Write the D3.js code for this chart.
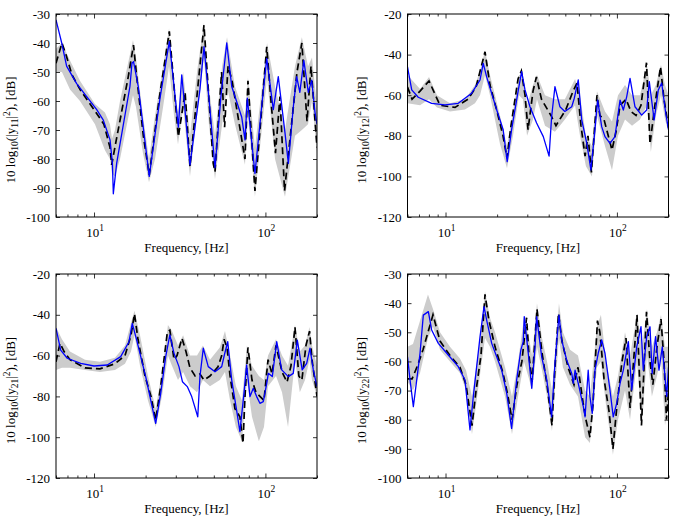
<!DOCTYPE html>
<html><head><meta charset="utf-8">
<script src="https://cdn.jsdelivr.net/npm/d3@7"></script>
<style>
body{margin:0;background:#fff}
svg{display:block}
text{font-family:"Liberation Serif","Times New Roman",serif;fill:#000}
</style>
</head><body>
<svg id="chart" width="675" height="517"></svg>
<script>
// ---------------- data ----------------
const xDomain = [6, 200];
const xMajorTicks = [10, 100];
const xMajorLabels = [["10","1"],["10","2"]];
const xMinorTicks = [6,7,8,9,20,30,40,50,60,70,80,90,200];
const xLabel = "Frequency, [Hz]";
const panelIds = ["11","12","21","22"];

const p1YDomain = [-100, -30];
const p1YTicks = [-100,-90,-80,-70,-60,-50,-40,-30];
const p2YDomain = [-120, -20];
const p2YTicks = [-120,-100,-80,-60,-40,-20];
const p3YDomain = [-120, -20];
const p3YTicks = [-120,-100,-80,-60,-40,-20];
const p4YDomain = [-100, -30];
const p4YTicks = [-100,-90,-80,-70,-60,-50,-40,-30];

// panel 1 : y11
const p1BlueF = [6.0,6.48,6.92,7.92,10.37,11.33,12.4,12.8,12.96,13.56,16.2,16.65,17.0,18.12,21.0,24.27,27.5,31.05,32.5,36.3,41.5,43.8,47.5,50.8,55.1,59.5,63.6,72.7,76.0,78.4,86.9,95.1,101.8,111.2,118.9,130.1,136.1,145.5,152.2,158.8,167.6,178,186.3,194.7,200];
const p1BlueDB = [-32,-40,-48,-54,-63,-66.6,-73.4,-81.4,-92,-81.4,-55,-47,-46.4,-55,-86,-59,-39.5,-69,-51,-82,-56,-41.3,-63,-83,-58,-40,-55,-65.5,-73.4,-59,-85,-62,-45.3,-63,-51.6,-71,-81.5,-62,-51.6,-57,-46,-57,-52.8,-64,-68];
const p1DashF = [6.0,6.5,6.86,7.44,8.28,10.0,11.42,12.39,12.68,13.43,14.57,15.8,17.0,17.74,19.4,21.0,23.9,27.5,31.05,34.0,36.3,43.8,49.6,50.8,55.5,57.8,60.5,63.9,76.0,79.1,86.9,101.8,107.8,114.5,121.6,129.3,152.9,163.2,174.9,184.5,200];
const p1DashDB = [-47,-40,-44,-51,-56,-63,-68,-76,-82,-74,-63,-52,-40.7,-51.6,-72,-85.5,-60,-36,-72.3,-57,-82.6,-33.8,-81.5,-84.4,-50,-69,-48,-53,-80,-53,-91,-41.3,-60,-78,-58.5,-91,-50,-40,-67,-48,-76];
const p1BandF = [6.0,6.5,7.24,8.28,10.13,11.58,12.39,12.73,13.25,14.18,15.8,16.88,17.57,19.3,20.93,22.7,25.3,27.4,29.3,30.9,33.1,36.3,39.9,43.8,46.8,50.8,55.9,59.7,66.4,76.0,79.1,86.9,102.2,113.8,130.1,148.8,163.2,177.3,187,200];
const p1BandUp = [-42,-40,-46,-53,-61,-64,-68,-73,-70,-60,-47,-39,-45,-65,-80,-65,-48,-35,-55,-64,-50,-72,-50,-33,-55,-72,-48,-38,-55,-65,-52,-76,-40,-55,-70,-48,-38,-48,-45,-62];
const p1BandLo = [-50,-50,-56,-60,-68,-77,-80,-85,-86,-80,-66,-58,-62,-78,-88,-80,-62,-48,-65,-75,-62,-86,-65,-45,-68,-87,-68,-55,-68,-82,-65,-93,-52,-80,-93,-72,-70,-68,-60,-78];

// panel 2 : y12
const p2BlueF = [6.0,6.35,6.93,8.30,9.93,11.87,14.21,15.9,16.6,17.38,19.9,21.7,22.9,24.3,26.6,27.8,29.1,31.1,34.0,37.2,40.2,41.6,43.5,46.5,49.7,54.5,56.4,59.5,62.3,66.7,70.5,73.8,77.2,81.5,85.2,91.1,97.4,104.3,109.0,114.1,119.3,127.5,139.5,149.2,154.5,164.9,174.4,182.5,192.7,200];
const p2BlueDB = [-46,-57.4,-61,-64,-64.8,-64,-59,-52.5,-44.3,-51,-67.3,-77,-92.7,-77,-57.4,-48.4,-57.4,-65.7,-73.7,-80.4,-90,-70.6,-55.8,-65.7,-68,-65.7,-61.5,-52.5,-72,-83.7,-96.8,-80.4,-62.4,-75.5,-80.4,-83.7,-80.4,-62.4,-67.3,-60.7,-51.7,-65.7,-69.8,-67.3,-53.3,-72.2,-57.4,-54,-68.9,-77];
const p2DashF = [6.0,6.38,7.10,8.01,9.29,11.36,13.52,15.07,17.0,18.17,19.98,21.65,22.84,24.1,26.5,27.7,29.1,30.3,32.4,33.9,36.3,41.25,44.1,50.4,55.5,58.5,61.7,65.2,67.8,71.0,76.5,79.6,84.1,93.6,98.8,104.3,113.0,120.8,129.3,138.2,148.8,156,166.5,179.6,188.3,200];
const p2DashDB = [-56,-62,-58,-53,-65,-66,-62,-56,-38.6,-55,-68,-80,-91,-75,-52,-48,-60,-77,-58,-51,-62,-70,-75,-67,-58,-54,-75,-90,-80,-98,-60,-70,-72,-87,-78,-65,-62,-68,-70,-65,-44,-84,-65,-46,-62,-76];
const p2BandF = [6.0,7.10,8.01,8.92,10.62,12.99,14.86,15.9,17.0,18.17,20.79,22.84,24.77,26.84,28.29,29.9,32.4,34.17,38.06,43.5,49.7,57.0,60.9,65.95,71.5,76.5,85.2,93.6,101.5,111.5,122.5,136.4,149.8,157.8,168.8,180.8,190.8,200];
const p2BandUp = [-50,-57,-51,-60,-64,-62,-55,-48,-38,-50,-70,-85,-68,-50,-50,-65,-55,-50,-60,-62,-62,-52,-60,-80,-85,-58,-68,-73,-60,-55,-60,-60,-45,-60,-55,-45,-55,-60];
const p2BandLo = [-64,-65,-62,-66,-68,-67,-64,-60,-50,-60,-84,-96,-80,-60,-62,-80,-72,-62,-75,-78,-72,-65,-80,-95,-100,-70,-85,-97,-80,-72,-75,-72,-65,-88,-70,-60,-72,-78];

// panel 3 : y21
const p3BlueF = [6.0,6.39,6.98,8.36,10.0,11.95,14.31,16.0,16.72,17.74,20.02,22.9,24.5,26.2,27.7,29.3,31.3,32.8,35.0,37.15,40.3,41.5,43.4,46.4,50.8,55.6,57.6,60.3,63.6,67.9,71.0,75.3,77.7,81.3,85.0,88.9,92.9,97.2,101.8,104,109.7,116.4,124.5,136.1,145.4,153.5,163.9,174.1,182,190.3,200];
const p3BlueDB = [-46.6,-57.3,-61.3,-63.8,-65.1,-64.6,-60.5,-53.2,-44.2,-52.4,-70.3,-93.2,-78.5,-60.5,-49.9,-58.9,-65.4,-72.8,-75.2,-80.1,-90,-70.3,-56.4,-65.4,-67.9,-65.4,-59.7,-53.2,-72,-86.7,-97.3,-76.9,-64.6,-80.1,-76,-80.1,-83.4,-82.6,-73.6,-68.7,-70.3,-53.2,-67,-70.3,-68.7,-52.4,-67,-63.8,-56.4,-67,-75.2];
const p3DashF = [6.0,6.33,6.69,7.24,8.86,10.83,13.25,15.16,16.43,17.22,18.05,19.83,21.5,22.9,24.5,26.8,27.7,29.3,30.5,32.6,34.4,36.3,38.9,41.5,43.8,47.5,52.9,55.6,57.4,59.7,62.2,66.4,71.0,74.0,76.0,79.1,83.5,88.1,92.9,98.1,103.6,109.3,115.3,125.0,133.7,141,148.8,156.7,163.2,172.5,181,187,200];
const p3DashDB = [-63,-54,-58,-62,-66,-66.5,-64,-60,-50,-39.5,-52,-70,-80,-91.6,-75,-48.3,-47.5,-62,-60,-51.5,-58,-66,-70,-69,-72,-70,-65.5,-60,-52,-56,-70,-86,-90,-103,-80,-56,-72,-78,-80,-82,-62,-69,-55,-68,-73,-65,-46,-70,-72,-55,-48,-62,-80];
const p3BandF = [6.0,6.5,7.24,8.86,10.83,13.25,15.16,16.43,17.22,18.55,20.65,22.9,24.9,27.0,28.5,30.9,33.1,36.3,39.9,43.2,47.5,54.2,58.1,62.2,67.3,73.0,78.0,83.5,91.6,98.1,103.6,115.3,125.0,135.5,148.8,158.8,170.2,180.8,187,200];
const p3BandUp = [-46,-52,-58,-62,-63,-61,-55,-44,-38,-50,-70,-86,-68,-45,-48,-55,-50,-60,-60,-55,-62,-56,-48,-60,-75,-82,-55,-65,-70,-72,-60,-52,-60,-65,-45,-58,-55,-46,-55,-65];
const p3BandLo = [-67,-66,-66,-67,-68,-67,-64,-58,-50,-65,-82,-95,-80,-60,-65,-72,-68,-75,-78,-72,-75,-72,-68,-82,-95,-102,-72,-90,-102,-95,-75,-70,-78,-95,-62,-78,-72,-62,-72,-80];

// panel 4 : y22
const p4BlueF = [6.0,6.21,6.49,6.79,7.10,7.42,7.94,8.30,9.08,10.38,11.87,12.99,13.89,14.53,15.9,16.77,17.38,18.6,21.27,22.75,24.3,26.0,27.5,28.4,28.8,30.4,31.85,33.3,34.0,36.4,39.0,41.6,43.5,45.9,47.6,50.9,54.5,55.7,57.0,59.5,63.7,65.2,68.0,69.6,71.8,74.5,77.8,81.5,85.2,91.1,95.2,99.7,104.3,109.0,116.6,122.0,130.5,138.2,142.5,149.2,156,160.6,168.1,176,184,195.3,200];
const p4BlueDB = [-58.4,-66.4,-75.5,-66.4,-57.2,-44.1,-42.9,-49.2,-53.8,-57.8,-61.8,-66.4,-83.5,-72,-51.5,-41.2,-45.8,-53.8,-63,-70.9,-83,-66.4,-56.1,-53.2,-44.6,-57.2,-69.2,-55,-44.6,-58.4,-66.4,-79,-60.6,-44.1,-52.6,-59.5,-64.1,-67.5,-63,-67.5,-75.5,-79,-63,-72,-77.8,-63,-57.2,-52.6,-57.2,-69.8,-79,-74.4,-67.5,-63,-53.2,-69.8,-55,-48.1,-63,-51.5,-48.1,-64.1,-51.5,-63,-55,-72,-62];
const p4DashF = [6.0,6.38,6.91,7.39,7.90,8.45,9.29,10.62,12.14,13.17,14.27,15.07,16.1,17.0,17.93,19.45,21.65,23.16,24.43,26.12,27.9,29.7,30.7,32.0,33.3,34.17,36.55,39.1,41.8,43.5,45.6,47.8,51.85,56.2,59.3,63.4,65.95,69.6,72.5,77.0,79.6,84.1,89.9,94.8,100.1,107.1,113.0,119.3,125.8,131.0,139.1,148.8,156,162.1,171.3,180.8,188.3,194.7,200];
const p4DashDB = [-66,-66,-61,-56,-50,-44,-53,-58,-62,-68,-82,-70,-58,-37,-46,-55,-64,-72,-80,-68,-60,-45,-58,-67,-52,-42,-57,-68,-82,-62,-43.5,-53,-62,-68,-62,-74,-80,-86,-75,-46,-50,-66,-77,-90,-75,-60,-52,-76,-58,-44,-82,-43,-60,-68,-55,-45.5,-60,-80,-70];
const p4BandF = [6.0,6.46,7.10,7.90,8.45,9.29,10.62,12.14,13.17,14.27,15.07,16.1,17.0,18.17,19.45,22.24,24.43,26.5,28.7,30.7,32.0,34.17,36.55,39.1,41.8,43.5,45.9,48.4,53.3,59.3,65.2,69.6,76.5,80.7,86.4,94.8,101.5,111.5,119.3,131.0,140.0,149.8,160,171.3,180.8,190.8,200];
const p4BandUp = [-55,-54,-46,-37,-42,-50,-55,-59,-63,-72,-62,-50,-36,-45,-50,-62,-72,-60,-45,-52,-58,-40,-52,-60,-70,-58,-40,-50,-56,-58,-70,-72,-48,-44,-60,-72,-65,-50,-58,-44,-55,-42,-55,-50,-44,-55,-55];
const p4BandLo = [-67,-70,-64,-52,-48,-56,-60,-64,-70,-85,-75,-62,-52,-55,-60,-72,-85,-72,-60,-66,-70,-55,-63,-72,-84,-70,-52,-62,-68,-72,-86,-88,-62,-60,-75,-92,-80,-70,-80,-60,-82,-58,-72,-65,-58,-82,-75];

// ---------------- layout ----------------
const zip2 = (f, v) => f.map((d, i) => ({f: d, v: v[i]}));
const zip3 = (f, a, b) => f.map((d, i) => ({f: d, up: a[i], lo: b[i]}));

const panels = [
  {id: panelIds[0], left: 56,    right: 317,   top: 14,  bottom: 217, yDomain: p1YDomain, yTicks: p1YTicks,
   blue: zip2(p1BlueF, p1BlueDB), dash: zip2(p1DashF, p1DashDB), band: zip3(p1BandF, p1BandUp, p1BandLo)},
  {id: panelIds[1], left: 407.5, right: 668.5, top: 14,  bottom: 217, yDomain: p2YDomain, yTicks: p2YTicks,
   blue: zip2(p2BlueF, p2BlueDB), dash: zip2(p2DashF, p2DashDB), band: zip3(p2BandF, p2BandUp, p2BandLo)},
  {id: panelIds[2], left: 56,    right: 317,   top: 274, bottom: 478, yDomain: p3YDomain, yTicks: p3YTicks,
   blue: zip2(p3BlueF, p3BlueDB), dash: zip2(p3DashF, p3DashDB), band: zip3(p3BandF, p3BandUp, p3BandLo)},
  {id: panelIds[3], left: 407.5, right: 668.5, top: 274, bottom: 478, yDomain: p4YDomain, yTicks: p4YTicks,
   blue: zip2(p4BlueF, p4BlueDB), dash: zip2(p4DashF, p4DashDB), band: zip3(p4BandF, p4BandUp, p4BandLo)}
];

const svg = d3.select("#chart");
const FS = 13, FS_SMALL = 9.5;

panels.forEach((p, idx) => {
  const x = d3.scaleLog().domain(xDomain).range([p.left, p.right]);
  const y = d3.scaleLinear().domain(p.yDomain).range([p.bottom, p.top]);
  const g = svg.append("g");
  const clipId = "clip" + idx;
  svg.append("clipPath").attr("id", clipId).append("rect")
    .attr("x", p.left).attr("y", p.top).attr("width", p.right - p.left).attr("height", p.bottom - p.top);
  const plot = g.append("g").attr("clip-path", `url(#${clipId})`);

  // band
  plot.append("path").datum(p.band)
    .attr("d", d3.area().x(d => x(d.f)).y0(d => y(d.lo)).y1(d => y(d.up)))
    .attr("fill", "#cccccc").attr("stroke", "none");
  // dashed
  plot.append("path").datum(p.dash)
    .attr("d", d3.line().x(d => x(d.f)).y(d => y(d.v)))
    .attr("fill", "none").attr("stroke", "#000").attr("stroke-width", 1.7)
    .attr("stroke-dasharray", "7,4");
  // blue
  plot.append("path").datum(p.blue)
    .attr("d", d3.line().x(d => x(d.f)).y(d => y(d.v)))
    .attr("fill", "none").attr("stroke", "#0000ff").attr("stroke-width", 1.3)
    .attr("stroke-linejoin", "round");

  // axes
  const yl = g.append("g").attr("transform", `translate(${p.left},0)`)
    .call(d3.axisLeft(y).tickValues(p.yTicks).tickSizeInner(-4).tickSizeOuter(0).tickPadding(6).tickFormat(d => String(d)));
  const yr = g.append("g").attr("transform", `translate(${p.right},0)`)
    .call(d3.axisRight(y).tickValues(p.yTicks).tickSizeInner(-4).tickSizeOuter(0).tickFormat(""));
  const xb = g.append("g").attr("transform", `translate(0,${p.bottom})`)
    .call(d3.axisBottom(x).tickValues(xMajorTicks).tickSizeInner(-4.5).tickSizeOuter(0).tickFormat(""));
  const xbm = g.append("g").attr("transform", `translate(0,${p.bottom})`)
    .call(d3.axisBottom(x).tickValues(xMinorTicks).tickSizeInner(-2.5).tickSizeOuter(0).tickFormat(""));
  const xt = g.append("g").attr("transform", `translate(0,${p.top})`)
    .call(d3.axisTop(x).tickValues(xMajorTicks).tickSizeInner(-4.5).tickSizeOuter(0).tickFormat(""));
  const xtm = g.append("g").attr("transform", `translate(0,${p.top})`)
    .call(d3.axisTop(x).tickValues(xMinorTicks).tickSizeInner(-2.5).tickSizeOuter(0).tickFormat(""));
  [yl, yr, xb, xbm, xt, xtm].forEach(a => {
    a.select(".domain").remove();
    a.selectAll("line").attr("stroke", "#000").attr("stroke-width", 0.8);
    a.selectAll("text").attr("font-size", FS).attr("font-family", '"Liberation Serif", serif').attr("fill", "#000");
  });

  // frame
  g.append("rect").attr("x", p.left).attr("y", p.top)
    .attr("width", p.right - p.left).attr("height", p.bottom - p.top)
    .attr("fill", "none").attr("stroke", "#000").attr("stroke-width", 1);

  // x tick labels (10^1, 10^2)
  xMajorTicks.forEach((t, i) => {
    const tx = g.append("text").attr("x", x(t) + 1).attr("y", p.bottom + 20)
      .attr("text-anchor", "middle").attr("font-size", FS);
    tx.append("tspan").text(xMajorLabels[i][0]);
    tx.append("tspan").attr("dy", -6).attr("font-size", FS_SMALL).text(xMajorLabels[i][1]);
  });

  // x label
  g.append("text").attr("x", (p.left + p.right) / 2).attr("y", p.bottom + 35)
    .attr("text-anchor", "middle").attr("font-size", FS).text(xLabel);

  // y label
  const lx = p.left - 41.5;
  const ly = (p.top + p.bottom) / 2 + 14.5;
  const t = g.append("text").attr("transform", `translate(${lx},${ly}) rotate(-90)`)
    .attr("text-anchor", "middle").attr("font-size", FS);
  t.append("tspan").text("10 log");
  t.append("tspan").attr("dy", 3).attr("font-size", FS_SMALL).text("10");
  t.append("tspan").attr("dy", -3).text("(|y");
  t.append("tspan").attr("dy", 3).attr("font-size", FS_SMALL).text(p.id);
  t.append("tspan").attr("dy", -3).text("|");
  t.append("tspan").attr("dy", -5).attr("font-size", FS_SMALL).text("2");
  t.append("tspan").attr("dy", 5).text("), [dB]");
});
</script>
</body></html>
